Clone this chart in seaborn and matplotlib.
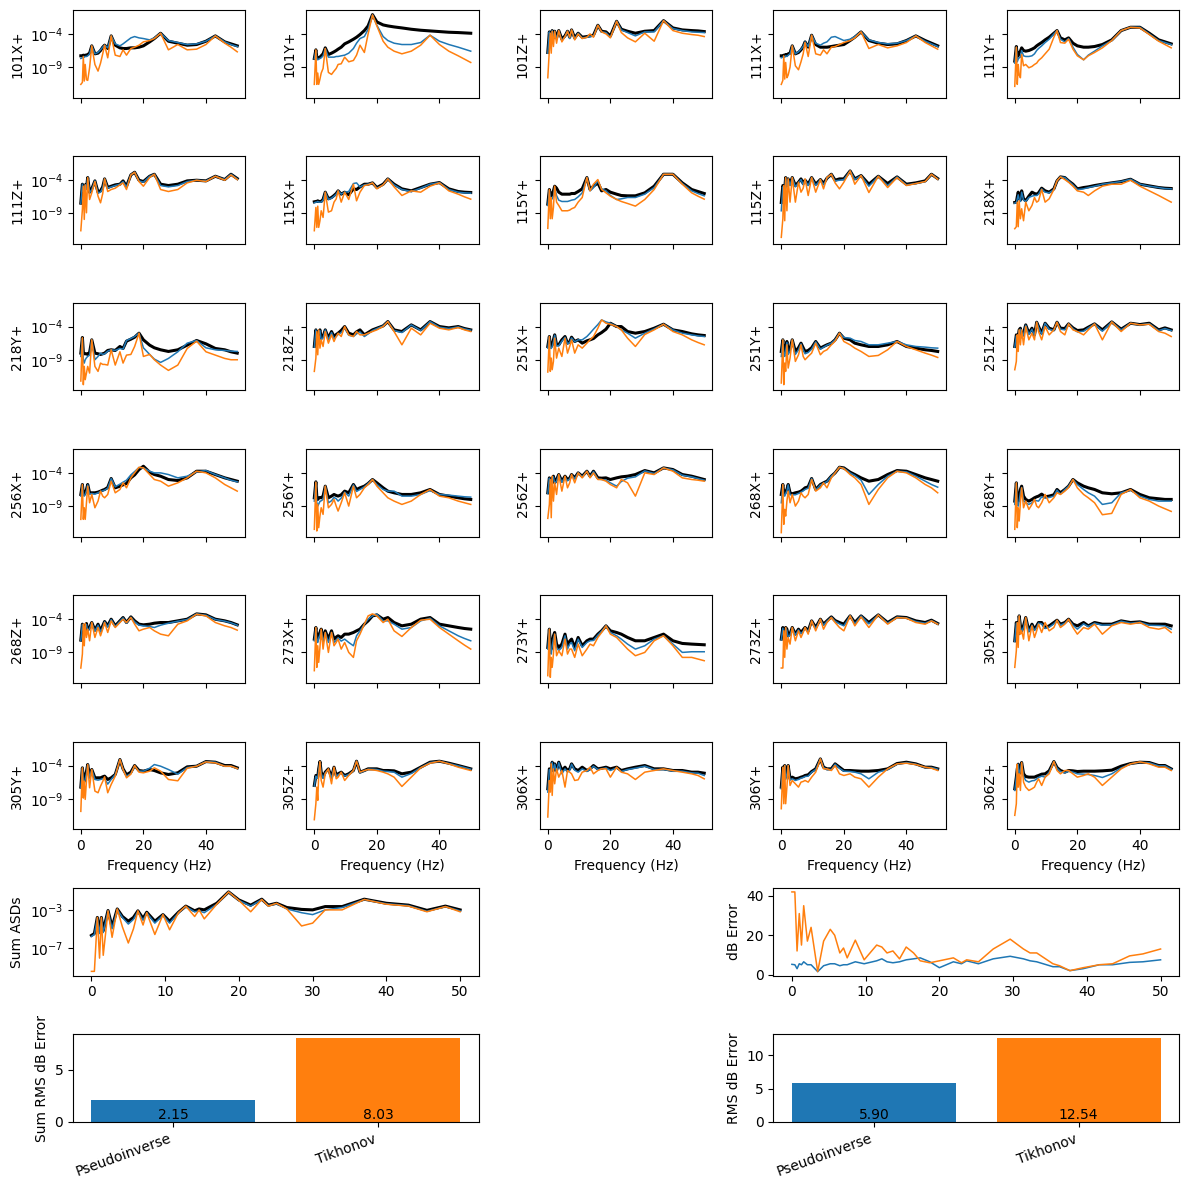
import numpy as np
import pandas as pd
import matplotlib
matplotlib.use("Agg")
import matplotlib.pyplot as plt
import matplotlib.ticker as mticker
from matplotlib.gridspec import GridSpec
import seaborn as sns

plt.rcParams['font.family'] = ['DejaVu Sans']

# ---------------- data (ASD values stored as log10 exponents) ----------------
FREQ = [0, 0.5, 0.8, 1.1, 1.4, 1.8, 2.2, 2.8, 3.5, 4.5, 5.5, 6.3, 7.0, 7.6, 8.6, 9.7,
        11, 12.5, 13.5, 14.6, 16, 17.2, 18.6, 20, 22, 23.5, 25.5, 28, 31, 34, 37, 40,
        43, 46, 48, 50]

NAMES = ['101X+', '101Y+', '101Z+', '111X+', '111Y+',
         '111Z+', '115X+', '115Y+', '115Z+', '218X+',
         '218Y+', '218Z+', '251X+', '251Y+', '251Z+',
         '256X+', '256Y+', '256Z+', '268X+', '268Y+',
         '268Z+', '273X+', '273Y+', '273Z+', '305X+',
         '305Y+', '305Z+', '306X+', '306Y+', '306Z+']

TRUTH = {
 '101X+': [-7.3,-7.3,-7.2,-7.3,-7.2,-7.2,-7.1,-6.9,-5.8, -7.0,-6.9,-6.5,-6.0,-5.7,-6.2,-4.3, -5.7,-6.1,-6.2,-6.2,-6.1,-6.1,-6.0,-5.8, -5.2,-4.7,-3.9,-5.1,-5.4,-5.7,-5.6,-5.1, -4.3,-5.2,-5.5,-5.8],
 '101Y+': [-7.7,-6.4,-7.5,-7.7,-7.6,-7.5,-7.3,-7.0,-6.1, -7.1,-6.9,-6.7,-6.5,-6.3,-6.0,-5.5, -5.2,-4.8,-4.5,-4.1,-3.5,-2.8,-1.1,-2.2, -2.65,-2.8,-2.95,-3.1,-3.3,-3.45,-3.55,-3.65, -3.75,-3.8,-3.85,-3.9],
 '101Z+': [-6.8,-3.7,-4.6,-4.8,-3.5,-4.6,-3.6,-4.6,-3.5, -4.8,-4.3,-3.6,-4.5,-3.4,-4.6,-3.9, -4.5,-4.4,-4.3,-4.2,-2.7,-3.6,-3.7,-4.3, -2.1,-3.3,-3.6,-3.9,-3.6,-3.5,-2.0,-3.1, -3.4,-3.5,-3.55,-3.65],
 '111X+': [-7.3,-7.3,-7.2,-7.3,-7.1,-7.2,-7.0,-6.9,-5.8, -7.0,-6.8,-6.4,-5.9,-5.2,-6.0,-4.2, -5.6,-6.0,-6.0,-6.0,-5.9,-5.8,-5.7,-5.6, -5.0,-4.5,-3.7,-5.0,-5.4,-5.6,-5.5,-5.0, -4.3,-5.0,-5.4,-5.8],
 '111Y+': [-8.1,-5.9,-7.4,-7.3,-6.8,-6.6,-6.1,-6.5,-6.6, -6.5,-6.3,-6.1,-5.8,-5.6,-5.3,-4.9, -4.5,-3.9,-3.5,-4.6,-4.9,-4.6,-5.4,-5.8, -6.0,-6.0,-5.9,-5.6,-4.9,-3.5,-3.0,-3.0, -3.9,-4.9,-5.2,-5.5],
 '111Z+': [-7.45,-4.6,-5.6,-5.4,-4.7,-5.2,-3.6,-5.8,-5.3, -4.1,-5.8,-5.6,-5.0,-3.8,-5.1,-4.9, -4.7,-4.6,-4.1,-4.9,-3.2,-2.8,-4.0,-4.2, -3.4,-3.1,-4.6,-4.8,-4.6,-4.1,-4.0,-4.1, -3.4,-3.9,-3.1,-3.75],
 '115X+': [-7.25,-7.2,-7.2,-7.1,-7.2,-7.2,-7.2,-6.9,-5.8, -6.8,-6.6,-6.3,-6.0,-5.6,-6.1,-5.8, -6.2,-5.3,-5.4,-5.0,-4.6,-4.6,-4.4,-5.1, -4.6,-3.8,-4.6,-5.3,-5.6,-5.1,-4.6,-4.35, -5.3,-5.7,-5.8,-5.85],
 '115Y+': [-7.6,-5.4,-6.2,-6.4,-6.0,-5.6,-4.9,-5.2,-5.8, -6.1,-6.1,-6.1,-6.1,-6.0,-6.0,-5.7, -5.3,-3.6,-5.4,-4.9,-4.4,-5.6,-5.4,-5.8, -6.1,-6.3,-6.35,-6.35,-5.9,-4.9,-3.1,-3.1, -4.4,-5.4,-5.7,-6.0],
 '115Z+': [-7.35,-4.8,-5.1,-5.3,-3.6,-4.8,-3.8,-4.6,-3.6, -4.8,-4.3,-3.8,-4.5,-4.0,-4.6,-3.6, -4.6,-3.9,-4.5,-3.7,-3.1,-4.0,-3.8,-3.8, -2.6,-3.8,-3.3,-4.6,-3.4,-4.5,-3.5,-4.6, -4.4,-4.1,-3.1,-3.75],
 '218X+': [-7.35,-7.3,-6.5,-5.8,-6.6,-7.0,-5.6,-6.8,-7.1, -6.4,-5.8,-6.0,-6.1,-5.9,-5.2,-5.6, -5.8,-5.3,-4.1,-3.5,-3.6,-4.1,-4.6,-5.3, -5.1,-5.0,-4.8,-4.6,-4.4,-4.2,-3.85,-4.6, -4.85,-5.1,-5.2,-5.25],
 '218Y+': [-8.0,-5.65,-7.9,-8.1,-8.1,-8.1,-8.2,-7.9,-6.0, -8.0,-8.1,-8.2,-8.1,-8.0,-7.6,-7.5, -7.6,-7.0,-7.3,-6.2,-5.9,-5.6,-5.0,-6.0, -6.8,-7.2,-7.5,-7.75,-7.5,-6.8,-6.1,-6.6, -7.3,-7.5,-7.8,-8.0],
 '218Z+': [-7.0,-4.5,-5.6,-5.25,-5.0,-4.5,-5.75,-5.5,-4.5, -5.75,-4.75,-5.5,-5.2,-5.0,-4.6,-4.0, -5.0,-5.25,-4.8,-4.5,-5.25,-4.9,-4.5,-4.25, -3.9,-3.25,-4.5,-4.75,-3.75,-4.5,-3.25,-4.0, -4.2,-4.0,-4.3,-4.5],
 '251X+': [-7.0,-5.5,-6.9,-7.0,-6.8,-6.0,-5.25,-6.75,-6.75, -6.0,-5.5,-6.5,-6.3,-5.6,-6.25,-6.0, -6.5,-6.15,-6.0,-5.8,-5.25,-4.9,-4.4,-3.5, -4.0,-4.0,-4.75,-5.0,-4.75,-4.25,-3.65,-4.5, -4.75,-5.1,-5.25,-5.35],
 '251Y+': [-7.75,-6.0,-7.6,-7.75,-7.2,-6.25,-7.75,-7.3,-6.0, -7.75,-7.2,-6.5,-7.2,-7.75,-7.6,-7.2, -6.25,-7.25,-7.0,-6.75,-6.5,-6.0,-5.0,-5.75, -6.0,-6.5,-6.75,-7.0,-7.0,-6.75,-6.25,-7.0, -7.25,-7.5,-7.6,-7.75],
 '251Z+': [-7.0,-5.25,-5.4,-5.5,-4.5,-4.25,-5.5,-5.0,-3.75, -5.0,-4.25,-5.25,-3.35,-4.0,-5.0,-3.5, -4.25,-4.5,-3.35,-4.25,-4.3,-3.6,-4.2,-4.6, -4.5,-4.1,-3.6,-4.5,-3.3,-4.4,-3.5,-3.7, -3.5,-4.5,-4.2,-4.5],
 '256X+': [-7.25,-5.75,-7.2,-7.25,-7.0,-6.5,-5.75,-7.0,-7.0, -7.0,-6.9,-6.75,-6.6,-6.5,-6.2,-4.85, -6.25,-6.0,-5.8,-5.6,-4.75,-4.3,-3.5,-3.0, -3.9,-4.25,-4.5,-5.0,-5.15,-4.75,-3.75,-3.75, -4.25,-4.75,-5.0,-5.25],
 '256Y+': [-7.75,-5.35,-7.6,-8.0,-7.8,-7.7,-7.75,-7.5,-6.0, -7.75,-7.5,-7.25,-7.4,-7.5,-7.3,-6.75, -7.0,-5.75,-6.5,-6.25,-6.0,-5.6,-5.0,-5.5, -6.25,-6.75,-7.0,-7.25,-7.25,-7.0,-6.5,-7.25, -7.5,-7.75,-7.9,-8.0],
 '256Z+': [-7.0,-4.75,-5.3,-5.75,-4.9,-4.5,-5.5,-5.0,-4.25, -5.25,-4.5,-5.0,-4.8,-4.25,-4.75,-4.0, -4.5,-3.75,-4.5,-3.75,-4.75,-4.8,-4.75,-5.0, -4.75,-4.6,-4.5,-4.25,-3.65,-4.0,-3.25,-3.5, -4.25,-4.5,-4.75,-5.0],
 '268X+': [-7.25,-5.75,-7.1,-7.15,-6.8,-6.5,-5.75,-7.0,-7.15, -7.0,-6.9,-6.75,-6.5,-6.25,-6.1,-4.85, -6.5,-5.75,-5.5,-5.25,-4.5,-4.0,-3.15,-3.25, -3.9,-4.25,-4.75,-5.25,-5.0,-4.25,-3.65,-3.75, -4.25,-4.75,-5.0,-5.25],
 '268Y+': [-8.25,-5.5,-8.0,-8.25,-7.5,-6.5,-6.0,-7.5,-8.0, -8.25,-8.0,-7.75,-7.6,-7.5,-7.2,-7.6, -7.5,-7.3,-6.5,-7.0,-6.5,-6.0,-5.0,-5.5, -6.0,-6.25,-6.5,-7.0,-7.15,-7.0,-6.5,-7.25, -7.75,-7.9,-8.0,-8.0],
 '268Z+': [-7.15,-4.75,-5.5,-5.75,-5.0,-4.65,-5.65,-5.25,-4.5, -5.65,-4.75,-5.75,-5.0,-4.35,-5.0,-4.0, -5.0,-4.25,-3.75,-4.5,-3.65,-4.25,-4.75,-4.85, -4.75,-4.6,-4.5,-4.5,-4.25,-4.0,-3.2,-3.35, -4.0,-4.25,-4.5,-4.85],
 '273X+': [-7.0,-5.25,-6.8,-7.0,-6.4,-6.0,-5.5,-7.0,-5.75, -7.0,-5.75,-7.0,-6.7,-6.5,-6.75,-6.25, -6.25,-6.0,-5.75,-5.5,-4.75,-4.25,-3.5,-3.35, -4.0,-3.75,-4.5,-5.0,-4.75,-4.0,-3.75,-4.75, -5.0,-5.25,-5.4,-5.5],
 '273Y+': [-8.25,-5.5,-8.0,-8.5,-7.5,-6.5,-6.0,-7.75,-8.25, -7.75,-6.25,-8.0,-7.3,-7.0,-8.25,-6.75, -8.0,-7.25,-7.0,-7.0,-6.25,-5.75,-5.0,-5.75, -6.0,-6.25,-6.75,-7.25,-7.25,-6.75,-6.25,-7.25, -7.65,-7.75,-7.8,-7.85],
 '273Z+': [-7.0,-5.25,-6.4,-6.75,-5.25,-5.5,-6.5,-6.2,-5.25, -6.25,-5.5,-6.0,-5.6,-5.25,-5.75,-4.25, -5.25,-4.0,-4.75,-4.25,-3.65,-4.2,-4.5,-4.75, -3.5,-4.5,-3.5,-4.5,-3.35,-4.5,-3.65,-3.75, -4.25,-4.5,-4.15,-4.65],
 '305X+': [-7.25,-4.5,-5.5,-6.25,-3.5,-5.0,-5.75,-5.0,-3.75, -5.75,-4.75,-5.5,-5.0,-4.5,-4.5,-5.25, -5.0,-4.5,-4.15,-4.75,-4.5,-4.0,-4.75,-5.0, -4.5,-5.0,-4.5,-4.75,-4.75,-4.25,-4.5,-4.4, -4.75,-4.75,-4.75,-5.0],
 '305Y+': [-7.25,-4.35,-6.0,-6.35,-5.5,-4.9,-3.85,-5.6,-4.6, -5.85,-5.85,-5.85,-5.7,-5.6,-6.1,-5.85, -5.35,-3.1,-4.5,-5.4,-5.0,-4.0,-4.75,-4.85, -4.6,-4.75,-5.1,-5.35,-5.1,-4.2,-4.1,-3.4, -3.5,-4.0,-4.0,-4.35],
 '305Z+': [-7.0,-5.5,-5.75,-5.75,-4.5,-3.4,-5.0,-5.75,-5.0, -4.5,-5.75,-4.25,-5.5,-5.25,-5.0,-5.5, -5.25,-4.75,-3.35,-5.0,-4.75,-4.5,-4.5,-4.5, -4.75,-4.75,-4.8,-5.25,-5.0,-4.25,-3.5,-3.35, -3.65,-4.0,-4.25,-4.5],
 '306X+': [-7.5,-4.5,-4.6,-4.75,-3.5,-4.75,-3.75,-4.75,-3.5, -4.75,-4.25,-4.75,-4.5,-3.75,-4.5,-4.75, -4.25,-4.75,-4.5,-4.0,-4.5,-4.4,-4.25,-4.5, -4.25,-4.75,-4.5,-4.25,-4.0,-4.5,-4.5,-4.75, -4.75,-5.0,-5.0,-5.15],
 '306Y+': [-7.25,-4.25,-5.0,-4.0,-5.75,-5.0,-4.0,-6.0,-5.75, -6.0,-5.9,-5.75,-5.65,-5.5,-5.4,-4.9, -4.5,-3.0,-4.25,-4.5,-4.5,-3.75,-4.25,-4.75, -4.75,-4.8,-4.85,-4.85,-4.75,-4.5,-3.7,-3.5, -3.75,-4.25,-4.25,-4.5],
 '306Z+': [-7.5,-5.75,-4.5,-3.8,-5.25,-4.5,-3.55,-5.25,-5.65, -5.75,-5.75,-5.75,-5.6,-5.5,-5.3,-5.25, -4.8,-3.4,-4.3,-4.75,-5.0,-4.75,-4.8,-4.9, -4.85,-4.85,-4.85,-4.8,-4.7,-4.1,-3.7,-3.5, -3.55,-4.0,-4.0,-4.5],
}

PINV = {
 '101X+': [-7.7,-7.6,-7.5,-7.5,-7.4,-7.4,-7.3,-7.0,-5.8, -7.0,-6.8,-6.4,-6.0,-5.7,-6.1,-4.3, -5.5,-5.8,-5.5,-5.1,-4.6,-4.4,-4.6,-4.7, -4.9,-4.6,-3.9,-5.0,-5.3,-5.6,-5.5,-5.1, -4.3,-5.2,-5.6,-5.9],
 '101Y+': [-7.75,-6.5,-7.7,-7.9,-7.8,-7.7,-7.6,-7.3,-6.2, -7.5,-7.5,-7.5,-7.4,-7.4,-7.3,-7.2, -6.9,-6.2,-5.4,-4.7,-4.4,-3.3,-1.15,-2.7, -4.4,-5.0,-5.4,-5.6,-5.6,-5.3,-4.2,-5.1, -5.6,-6.0,-6.3,-6.6],
 '101Z+': [-6.9,-3.7,-4.8,-5.0,-3.5,-4.8,-3.6,-4.8,-3.5, -5.0,-4.4,-3.6,-4.7,-3.4,-4.8,-3.9, -4.6,-4.5,-4.4,-4.3,-2.7,-3.7,-3.8,-4.5, -2.1,-3.4,-3.8,-4.3,-3.7,-3.7,-2.0,-3.2, -3.5,-3.7,-3.75,-3.8],
 '111X+': [-7.6,-7.5,-7.4,-7.5,-7.3,-7.4,-7.2,-7.0,-5.8, -7.0,-6.7,-6.3,-5.9,-5.2,-5.9,-4.2, -5.4,-5.7,-5.4,-5.2,-4.5,-4.4,-4.7,-5.0, -4.8,-4.4,-3.7,-4.9,-5.3,-5.5,-5.4,-5.0, -4.3,-5.1,-5.5,-5.9],
 '111Y+': [-8.4,-6.0,-8.2,-7.8,-7.6,-7.5,-6.5,-7.3,-7.4, -7.4,-7.3,-7.0,-6.5,-6.2,-5.8,-5.3, -4.8,-4.0,-3.5,-4.8,-5.2,-4.7,-6.0,-7.1, -7.9,-7.2,-6.6,-5.8,-5.0,-3.5,-3.0,-3.0, -4.0,-5.0,-5.3,-5.6],
 '111Z+': [-7.5,-4.6,-5.7,-5.6,-4.7,-5.4,-3.6,-5.9,-5.4, -4.1,-5.9,-5.8,-5.1,-3.8,-5.2,-5.0, -4.8,-4.6,-4.2,-5.0,-3.2,-2.8,-4.1,-4.3, -3.4,-3.1,-4.8,-5.0,-4.8,-4.2,-4.0,-4.1, -3.4,-3.9,-3.1,-3.8],
 '115X+': [-7.4,-7.3,-7.3,-7.2,-7.3,-7.3,-7.3,-7.0,-5.8, -6.9,-6.7,-6.4,-6.1,-5.6,-6.1,-5.8, -5.7,-4.5,-4.4,-5.0,-4.7,-4.6,-4.4,-5.2, -4.7,-3.8,-4.7,-5.4,-5.7,-5.2,-4.6,-4.35, -5.4,-5.8,-5.9,-5.95],
 '115Y+': [-7.8,-5.5,-6.8,-6.9,-6.8,-6.4,-5.1,-6.3,-7.0, -7.2,-7.2,-7.2,-7.1,-7.0,-6.9,-6.5, -5.9,-3.6,-5.6,-5.1,-4.1,-5.3,-5.6,-6.3, -6.9,-6.8,-6.6,-6.6,-6.1,-5.1,-3.1,-3.1, -4.5,-5.6,-6.0,-6.35],
 '115Z+': [-8.6,-5.0,-5.3,-5.5,-3.6,-5.0,-3.8,-4.8,-3.6, -5.0,-4.4,-3.9,-4.7,-4.0,-4.8,-3.6, -4.8,-3.9,-4.7,-3.7,-3.1,-4.1,-4.0,-3.9, -2.6,-3.9,-3.3,-4.9,-3.4,-4.8,-3.5,-4.7, -4.5,-4.2,-3.1,-3.8],
 '218X+': [-7.45,-7.4,-6.8,-6.2,-6.9,-7.2,-5.8,-7.0,-7.2, -6.6,-6.4,-6.3,-6.3,-6.1,-5.3,-5.8, -5.9,-5.4,-4.1,-3.5,-3.6,-4.1,-4.7,-5.4, -5.3,-5.1,-4.9,-4.6,-4.4,-4.2,-3.85,-4.6, -4.9,-5.1,-5.25,-5.3],
 '218Y+': [-8.5,-5.75,-9.0,-9.5,-9.0,-8.7,-8.5,-8.3,-6.0, -9.0,-8.5,-8.0,-8.2,-8.1,-7.7,-7.5, -7.6,-7.3,-7.4,-6.1,-5.8,-5.5,-5.0,-7.2, -8.2,-8.9,-9.4,-8.8,-7.8,-6.5,-6.1,-7.2, -7.5,-7.6,-7.7,-7.75],
 '218Z+': [-7.1,-4.5,-5.8,-5.5,-5.0,-4.6,-6.0,-5.7,-4.5, -6.0,-4.9,-5.8,-5.5,-5.2,-4.9,-4.2, -5.3,-5.5,-5.1,-4.8,-5.5,-5.1,-4.6,-4.3, -3.9,-3.25,-4.6,-4.9,-3.75,-4.6,-3.25,-4.1, -4.3,-4.05,-4.35,-4.55],
 '251X+': [-7.25,-5.5,-7.2,-7.3,-7.0,-6.3,-5.3,-6.9,-6.9, -6.2,-5.6,-6.6,-6.4,-5.7,-6.3,-6.0, -6.0,-5.5,-5.0,-4.4,-3.7,-3.0,-3.3,-3.5, -4.0,-4.5,-5.0,-5.75,-5.0,-4.35,-3.65,-4.5, -5.0,-5.25,-5.4,-5.5],
 '251Y+': [-8.5,-6.0,-8.0,-8.5,-7.6,-6.4,-8.2,-7.7,-6.0, -8.2,-7.5,-6.6,-7.5,-8.1,-7.9,-7.4, -6.3,-7.4,-7.1,-6.8,-6.5,-6.0,-5.0,-5.65, -5.75,-6.1,-6.25,-6.75,-6.75,-6.5,-6.25,-6.75, -7.0,-7.1,-7.2,-7.25],
 '251Z+': [-7.1,-5.4,-5.6,-5.7,-4.6,-4.4,-5.7,-5.2,-3.8, -5.2,-4.4,-5.4,-3.35,-4.1,-5.2,-3.5, -4.4,-4.6,-3.35,-4.4,-4.5,-3.6,-4.3,-4.8, -4.7,-4.2,-3.6,-4.7,-3.3,-4.5,-3.5,-3.75, -3.55,-4.6,-4.3,-4.6],
 '256X+': [-7.5,-5.75,-7.4,-7.5,-7.2,-6.7,-5.8,-7.2,-7.1, -7.2,-7.0,-6.8,-6.7,-6.6,-6.3,-4.85, -6.1,-5.7,-5.4,-5.1,-4.3,-3.8,-3.2,-3.25, -3.75,-4.0,-4.0,-4.25,-4.75,-4.5,-3.85,-3.65, -4.25,-4.75,-5.1,-5.35],
 '256Y+': [-8.25,-5.4,-8.5,-9.0,-8.7,-8.3,-8.2,-8.0,-6.0, -8.5,-8.2,-7.7,-7.9,-8.25,-7.8,-6.9, -7.5,-5.8,-6.8,-6.5,-6.1,-5.6,-5.0,-5.75, -6.5,-6.75,-6.75,-7.5,-7.5,-7.25,-6.65,-7.25, -7.35,-7.5,-7.6,-7.65],
 '256Z+': [-7.1,-4.8,-5.5,-5.9,-4.9,-4.6,-5.6,-5.2,-4.3, -5.4,-4.6,-5.2,-4.9,-4.3,-4.9,-4.0, -4.6,-3.75,-4.6,-3.8,-4.9,-5.0,-5.1,-5.5, -6.0,-5.3,-4.8,-4.6,-3.7,-4.1,-3.25,-3.55, -4.35,-4.6,-4.85,-5.1],
 '268X+': [-8.5,-5.75,-7.4,-7.5,-7.1,-6.7,-5.8,-7.3,-7.3, -7.3,-7.1,-6.9,-6.7,-6.5,-6.3,-4.85, -6.6,-5.8,-5.6,-5.3,-4.5,-4.0,-3.15,-3.3, -4.0,-4.4,-5.1,-7.25,-5.75,-4.5,-3.75,-3.85, -4.5,-5.25,-5.75,-6.15],
 '268Y+': [-8.75,-5.5,-8.7,-9.0,-8.2,-7.0,-6.2,-8.2,-8.5, -8.75,-8.5,-8.1,-8.2,-8.25,-7.6,-7.8, -7.7,-7.5,-6.6,-7.2,-6.5,-6.0,-5.0,-5.75, -6.5,-7.0,-7.5,-8.75,-8.5,-7.0,-6.6,-7.5, -8.0,-8.25,-8.25,-8.25],
 '268Z+': [-7.2,-4.8,-5.6,-5.9,-5.1,-4.8,-5.8,-5.4,-4.55, -5.8,-4.9,-5.9,-5.2,-4.4,-5.2,-4.05, -5.1,-4.3,-3.8,-4.6,-3.7,-4.4,-4.9,-5.0, -5.1,-5.25,-4.9,-4.6,-4.3,-4.05,-3.2,-3.4, -4.05,-4.3,-4.55,-4.9],
 '273X+': [-7.25,-5.25,-7.2,-7.5,-6.8,-6.4,-5.6,-7.5,-6.0, -7.5,-6.0,-7.5,-7.2,-6.8,-7.3,-7.0, -7.5,-8.0,-6.5,-5.75,-4.75,-4.0,-3.5,-3.25, -4.25,-4.25,-4.75,-5.5,-5.25,-4.25,-3.85,-5.0, -5.75,-6.5,-6.9,-7.25],
 '273Y+': [-8.5,-5.5,-8.75,-9.25,-8.0,-7.0,-6.25,-8.25,-8.75, -8.25,-6.5,-8.5,-7.75,-7.5,-8.75,-7.0, -8.25,-7.5,-7.25,-7.2,-6.4,-5.8,-5.0,-6.0, -6.5,-7.0,-7.75,-8.5,-8.0,-7.0,-6.5,-7.75, -9.0,-8.9,-8.9,-8.9],
 '273Z+': [-7.1,-5.35,-6.6,-7.0,-5.3,-5.7,-6.7,-6.4,-5.3, -6.4,-5.6,-6.2,-5.8,-5.3,-5.9,-4.3, -5.4,-4.05,-4.9,-4.3,-3.7,-4.3,-4.7,-5.0, -3.5,-4.7,-3.5,-4.7,-3.35,-4.6,-3.7,-3.8, -4.35,-4.6,-4.2,-4.7],
 '305X+': [-7.35,-4.6,-5.7,-6.5,-3.5,-5.2,-5.9,-5.2,-3.8, -5.9,-4.9,-5.7,-5.2,-4.6,-4.7,-5.4, -5.2,-4.7,-4.2,-4.9,-4.6,-4.05,-4.9,-5.5, -4.7,-5.1,-4.6,-4.9,-4.85,-4.3,-4.6,-4.45, -4.9,-4.95,-5.0,-5.5],
 '305Y+': [-7.35,-4.35,-6.4,-6.85,-6.0,-5.2,-3.85,-5.9,-4.6, -6.1,-6.2,-6.1,-6.0,-5.9,-6.8,-6.1, -5.35,-3.1,-4.6,-5.6,-5.2,-4.1,-4.85,-4.85, -4.4,-3.85,-4.1,-4.6,-5.3,-4.3,-4.1,-3.4, -3.5,-4.1,-4.1,-4.45],
 '305Z+': [-7.1,-5.6,-5.9,-5.9,-4.6,-3.4,-5.2,-5.9,-5.1, -4.6,-5.9,-4.3,-5.6,-5.4,-5.1,-5.6, -5.35,-4.8,-3.35,-5.1,-4.8,-4.55,-4.55,-4.6, -4.85,-4.9,-5.0,-5.75,-5.2,-4.3,-3.55,-3.35, -3.7,-4.05,-4.3,-4.55],
 '306X+': [-8.0,-4.6,-4.8,-5.0,-3.5,-5.0,-3.8,-5.0,-3.55, -5.25,-4.5,-5.0,-4.7,-3.8,-4.7,-5.0, -4.5,-4.9,-4.6,-4.1,-4.6,-4.5,-4.35,-4.75, -4.35,-4.9,-4.6,-4.4,-4.1,-4.6,-4.6,-4.85, -4.85,-5.1,-5.15,-5.5],
 '306Y+': [-7.5,-4.3,-5.3,-4.0,-6.1,-5.3,-4.0,-6.2,-6.0, -6.25,-6.1,-5.9,-5.8,-5.65,-5.6,-5.0, -4.6,-3.0,-4.3,-4.6,-4.6,-3.8,-4.4,-4.85, -4.9,-5.0,-5.25,-6.0,-5.0,-4.6,-3.8,-3.55, -3.8,-4.3,-4.3,-4.55],
 '306Z+': [-7.75,-5.8,-4.7,-3.8,-5.5,-4.7,-3.55,-5.6,-6.25, -6.5,-6.3,-6.25,-6.0,-5.8,-5.6,-5.75, -5.0,-3.4,-4.4,-4.9,-5.1,-4.85,-5.0,-5.25, -5.3,-5.35,-5.5,-5.8,-5.25,-4.35,-3.75,-3.5, -3.6,-4.05,-4.05,-4.55],
}

TIKH = {
 '101X+': [-11.6,-11.3,-7.4,-11.1,-8.6,-10.9,-11.0,-9.1,-5.8, -8.6,-9.6,-8.4,-7.0,-5.7,-7.6,-4.3, -7.2,-7.4,-6.4,-7.2,-6.2,-6.0,-5.7,-5.2, -5.0,-4.7,-3.9,-6.4,-5.6,-6.4,-6.3,-5.6, -4.3,-5.4,-6.0,-6.7],
 '101Y+': [-11.6,-6.4,-11.6,-9.9,-11.6,-10.8,-9.9,-9.2,-6.2, -9.8,-10.1,-9.6,-9.2,-8.6,-8.5,-7.5, -8.2,-8.0,-7.2,-5.7,-6.8,-4.0,-1.15,-2.8, -5.1,-6.0,-6.6,-7.0,-6.6,-5.7,-4.2,-5.6, -6.6,-7.3,-7.8,-8.3],
 '101Z+': [-10.6,-6.4,-3.9,-6.9,-3.6,-5.9,-3.6,-5.4,-3.5, -5.2,-4.4,-3.6,-4.5,-3.4,-4.9,-4.0, -4.7,-4.5,-4.0,-4.5,-2.7,-3.7,-4.0,-4.6, -2.1,-3.8,-4.6,-5.2,-3.9,-5.1,-2.0,-3.5, -3.9,-4.1,-4.2,-4.4],
 '111X+': [-11.6,-11.0,-7.3,-10.8,-8.3,-10.6,-10.2,-9.0,-5.8, -8.8,-9.4,-8.2,-7.0,-5.3,-7.4,-4.2, -7.0,-7.2,-6.4,-7.0,-6.0,-5.9,-5.6,-5.3, -5.0,-4.6,-3.7,-6.2,-5.6,-6.1,-5.8,-5.3, -4.3,-5.3,-5.8,-6.3],
 '111Y+': [-11.9,-6.0,-11.6,-8.6,-10.2,-10.6,-7.1,-8.8,-8.6, -9.1,-8.9,-8.6,-8.4,-8.0,-7.6,-7.0, -6.3,-4.5,-3.5,-5.3,-5.4,-4.8,-6.3,-7.3, -7.9,-7.3,-6.8,-6.1,-5.0,-3.5,-3.0,-3.1, -4.1,-5.1,-5.6,-6.1],
 '111Z+': [-11.6,-8.4,-4.9,-9.9,-4.7,-8.9,-3.6,-6.9,-5.9, -4.2,-6.4,-7.4,-6.0,-3.8,-5.7,-5.4, -5.2,-4.7,-4.4,-5.4,-3.2,-2.8,-4.2,-4.9, -3.6,-3.1,-5.4,-5.7,-5.4,-4.4,-4.0,-4.2, -3.4,-4.0,-3.2,-3.9],
 '115X+': [-11.6,-8.1,-11.1,-7.9,-11.1,-10.1,-8.6,-9.6,-5.8, -8.8,-8.6,-7.3,-6.8,-5.6,-7.3,-5.8, -6.9,-4.6,-7.1,-5.8,-4.8,-4.7,-4.4,-5.3, -4.7,-3.8,-5.0,-6.3,-5.6,-5.8,-4.9,-4.4, -5.6,-6.1,-6.5,-6.85],
 '115Y+': [-11.25,-5.4,-9.8,-6.6,-9.8,-8.1,-4.9,-7.3,-7.8, -8.6,-8.6,-8.6,-8.5,-8.3,-8.1,-7.3, -6.6,-3.6,-5.6,-4.6,-3.9,-5.4,-5.9,-6.4, -6.9,-7.2,-7.5,-7.9,-6.9,-5.4,-3.1,-3.1, -4.6,-5.9,-6.4,-6.85],
 '115Z+': [-12.6,-9.8,-4.8,-10.1,-3.6,-8.6,-3.8,-7.3,-3.6, -7.3,-4.3,-5.8,-5.2,-3.8,-6.3,-3.6, -5.8,-3.9,-5.3,-3.6,-3.1,-4.4,-5.3,-4.3, -2.6,-4.6,-3.3,-5.85,-3.4,-5.1,-3.6,-4.8, -4.5,-4.2,-3.1,-3.85],
 '218X+': [-11.3,-11.0,-7.3,-11.0,-7.1,-9.8,-8.3,-10.1,-7.3, -8.6,-7.8,-6.6,-7.3,-7.1,-5.4,-7.3, -6.8,-5.4,-4.1,-3.5,-3.9,-4.3,-4.9,-5.6, -5.8,-6.3,-5.6,-4.9,-4.6,-4.6,-4.0,-4.9, -5.6,-6.3,-6.8,-7.3],
 '218Y+': [-12.2,-5.7,-12.75,-10.0,-12.0,-11.0,-10.0,-11.0,-6.0, -10.0,-10.75,-9.5,-9.7,-9.7,-9.8,-7.5, -9.8,-7.8,-9.5,-8.3,-8.2,-7.0,-5.0,-8.5, -8.2,-9.0,-9.8,-10.6,-9.8,-7.3,-6.2,-7.8, -8.3,-8.8,-9.0,-9.0],
 '218Z+': [-10.75,-8.75,-4.75,-8.25,-4.5,-7.25,-6.0,-7.0,-4.75, -6.5,-5.25,-6.25,-5.5,-5.0,-5.5,-4.0, -5.25,-5.5,-4.75,-5.25,-5.25,-5.0,-4.75,-4.5, -4.0,-3.25,-4.75,-6.75,-4.25,-5.25,-3.5,-4.25, -4.5,-4.15,-4.5,-4.75],
 '251X+': [-10.85,-5.5,-10.75,-8.75,-10.5,-9.25,-5.75,-8.75,-7.25, -8.5,-5.75,-8.0,-7.0,-6.0,-8.0,-6.75, -7.25,-6.5,-6.0,-5.5,-4.25,-3.0,-3.5,-3.65, -4.0,-4.5,-5.75,-7.0,-5.2,-4.5,-3.65,-4.75, -5.25,-6.0,-6.4,-6.75],
 '251Y+': [-12.5,-6.0,-12.75,-9.5,-10.75,-6.75,-10.25,-8.75,-6.0, -9.25,-8.25,-6.75,-8.5,-9.0,-8.5,-8.0, -6.5,-8.25,-7.75,-7.5,-6.75,-6.2,-5.0,-6.25, -6.75,-7.25,-7.75,-8.5,-8.35,-7.5,-6.25,-7.0, -7.5,-8.0,-8.3,-8.65],
 '251Z+': [-10.5,-9.25,-5.25,-7.75,-4.5,-6.75,-4.5,-6.75,-4.0, -6.0,-5.0,-6.0,-3.35,-4.75,-6.0,-4.0, -5.25,-4.5,-3.35,-4.75,-5.25,-3.6,-4.5,-4.75, -5.25,-4.5,-3.6,-6.0,-3.3,-4.75,-3.5,-3.75, -3.65,-4.75,-5.0,-5.5],
 '256X+': [-11.0,-5.75,-11.0,-9.25,-11.0,-8.5,-6.0,-8.5,-7.25, -9.25,-8.25,-6.75,-7.5,-7.75,-7.25,-5.25, -7.0,-6.5,-5.5,-6.25,-4.75,-4.0,-3.15,-3.25, -4.25,-5.0,-5.25,-6.0,-5.5,-4.75,-3.75,-4.0, -4.75,-5.75,-6.25,-6.75],
 '256Y+': [-12.5,-5.4,-12.75,-8.75,-12.25,-10.5,-9.25,-10.25,-6.0, -9.25,-8.75,-8.0,-9.0,-9.75,-8.5,-7.0, -9.0,-6.0,-7.75,-7.25,-6.25,-5.75,-5.0,-6.0, -7.0,-7.75,-8.25,-8.75,-8.25,-7.25,-6.5,-7.5, -7.75,-8.25,-8.5,-8.75],
 '256Z+': [-10.85,-8.75,-5.0,-10.75,-4.5,-8.25,-5.5,-7.25,-4.25, -6.75,-4.5,-6.25,-5.5,-4.25,-5.5,-4.0, -4.75,-3.75,-4.75,-4.0,-5.0,-5.0,-5.25,-5.75, -6.25,-5.0,-5.5,-7.5,-4.0,-4.25,-3.25,-3.75, -4.75,-5.0,-5.1,-5.25],
 '268X+': [-13.0,-5.75,-11.75,-9.5,-10.5,-8.25,-6.75,-8.5,-7.25, -9.0,-8.25,-7.0,-7.5,-7.75,-7.25,-5.0, -6.75,-6.25,-5.5,-6.25,-4.75,-4.0,-3.15,-3.35, -4.25,-4.75,-5.75,-8.75,-6.5,-4.75,-3.75,-4.0, -4.75,-5.75,-6.25,-7.0],
 '268Y+': [-12.5,-5.5,-12.25,-9.25,-11.25,-8.5,-6.25,-9.25,-8.25, -9.5,-8.75,-8.0,-9.0,-9.25,-8.5,-7.25, -8.5,-7.75,-7.0,-7.25,-6.75,-6.2,-5.0,-6.25, -7.25,-7.75,-8.5,-10.3,-10.1,-7.25,-6.5,-7.75, -8.25,-9.0,-9.4,-9.8],
 '268Z+': [-11.35,-9.25,-4.75,-8.0,-4.65,-6.75,-5.5,-7.25,-4.5, -6.75,-5.25,-6.5,-5.5,-4.5,-6.0,-4.25, -5.25,-4.5,-4.0,-4.5,-3.75,-4.75,-5.75,-5.5, -5.25,-5.75,-6.25,-6.5,-4.75,-4.25,-3.25,-3.5, -4.5,-5.0,-5.25,-5.65],
 '273X+': [-11.75,-5.25,-11.25,-8.0,-10.5,-8.25,-5.5,-8.5,-6.0, -9.0,-6.0,-8.0,-7.5,-7.0,-8.5,-7.5, -9.0,-9.75,-7.25,-6.25,-4.75,-3.5,-3.2,-3.5, -4.5,-4.0,-5.75,-6.6,-5.25,-4.15,-4.0,-5.25, -6.25,-7.25,-7.9,-8.5],
 '273Y+': [-12.5,-5.5,-12.75,-9.75,-11.25,-9.25,-6.25,-9.5,-8.75, -9.5,-7.0,-9.25,-8.5,-8.5,-9.75,-7.75, -9.5,-8.5,-7.75,-8.0,-6.75,-6.0,-5.0,-6.25, -6.75,-7.5,-8.5,-9.5,-9.0,-7.25,-6.5,-8.0, -9.75,-9.75,-10.0,-10.25],
 '273Z+': [-11.35,-11.35,-5.75,-9.75,-5.25,-8.5,-6.75,-7.75,-5.25, -7.25,-5.75,-6.75,-6.0,-5.25,-6.25,-4.25, -5.75,-4.0,-5.5,-4.5,-3.75,-4.5,-5.25,-5.75, -3.5,-5.0,-3.65,-5.25,-3.35,-4.75,-3.75,-3.85, -4.5,-4.75,-4.25,-4.75],
 '305X+': [-11.25,-8.75,-4.5,-8.25,-3.5,-6.25,-5.75,-7.0,-3.75, -7.25,-5.0,-6.75,-5.75,-4.75,-6.0,-4.5, -5.75,-5.25,-4.15,-5.25,-4.75,-4.0,-5.25,-6.25, -5.25,-5.5,-4.75,-6.25,-5.0,-4.5,-4.75,-4.5, -5.25,-5.5,-5.25,-6.0],
 '305Y+': [-10.9,-4.35,-8.9,-6.35,-9.1,-6.35,-3.85,-7.35,-4.6, -7.85,-8.1,-7.1,-6.4,-5.7,-8.1,-6.85, -5.6,-3.1,-4.6,-5.85,-5.3,-4.0,-5.0,-5.1, -4.85,-4.35,-4.85,-6.1,-6.3,-4.4,-4.1,-3.45, -3.6,-4.1,-4.1,-4.45],
 '305Z+': [-12.15,-9.75,-7.25,-9.25,-5.5,-3.4,-6.25,-7.25,-5.25, -4.5,-6.75,-4.25,-6.0,-5.75,-5.0,-6.25, -5.5,-4.75,-3.35,-5.0,-4.75,-4.6,-4.65,-4.75, -5.0,-5.25,-5.75,-7.15,-5.75,-4.35,-3.65,-3.35, -3.75,-4.25,-4.5,-4.75],
 '306X+': [-11.75,-6.25,-8.0,-3.75,-8.5,-4.5,-6.75,-4.5,-5.75, -4.75,-7.25,-4.75,-5.0,-5.25,-6.25,-6.15, -5.0,-4.75,-4.25,-5.25,-4.75,-4.5,-4.5,-5.75, -4.25,-5.0,-5.25,-6.1,-5.0,-4.75,-4.5,-4.75, -5.0,-5.25,-5.5,-6.0],
 '306Y+': [-10.5,-4.25,-9.75,-4.0,-9.75,-7.25,-4.0,-7.0,-6.25, -6.75,-7.25,-6.5,-6.4,-6.25,-6.5,-5.75, -5.0,-3.0,-4.5,-4.5,-4.75,-4.0,-5.25,-5.5, -5.25,-5.75,-6.0,-7.25,-5.75,-4.5,-3.75,-3.65, -3.85,-4.25,-4.4,-4.75],
 '306Z+': [-11.5,-9.75,-3.8,-7.25,-5.25,-7.75,-3.55,-6.5,-7.25, -7.75,-7.5,-7.25,-6.5,-6.0,-7.0,-5.75, -5.25,-3.4,-4.75,-5.25,-4.75,-4.75,-5.25,-5.75, -5.5,-5.25,-5.75,-7.0,-5.75,-4.5,-3.75,-3.45, -3.75,-4.25,-4.25,-4.75],
}

# Sum of ASDs over all channels (log10)
SUM_FREQ = [0, 0.4, 0.8, 1.1, 1.35, 1.6, 2.25, 2.8, 3.5, 4.2, 5.0, 5.7, 6.3, 7.0, 7.5, 8.6,
            9.7, 10.6, 11.8, 12.8, 14.0, 14.6, 15.3, 17.0, 18.6, 20.0, 21.6, 23.1, 24.0,
            25.1, 26.5, 28.5, 30.0, 31.7, 34.0, 37.0, 40.0, 43.0, 45.5, 48.0, 50.0]
SUM_TRUTH = [-5.7,-5.5,-3.8,-5.3,-3.8,-5.2,-3.07,-4.8,-2.9,-3.7,-4.2,-3.8,-3.1,-3.9,-3.25,-4.2,
             -3.5,-4.2,-3.25,-2.6,-3.1,-2.9,-3.0,-2.3,-1.1,-1.95,-2.5,-1.87,-2.5,-2.3,-2.75,
             -2.95,-3.0,-2.65,-2.65,-1.87,-2.3,-2.5,-3.05,-2.6,-3.0]
SUM_PINV = [-5.8,-5.6,-3.85,-5.5,-3.85,-5.4,-3.1,-5.0,-2.95,-3.8,-4.5,-4.0,-3.15,-4.1,-3.3,-4.4,
            -3.55,-4.4,-3.3,-2.65,-3.2,-3.1,-3.3,-2.4,-1.1,-2.0,-2.6,-1.9,-2.55,-2.35,-2.9,
            -3.3,-3.5,-3.0,-2.75,-1.9,-2.35,-2.55,-3.15,-2.65,-3.1]
SUM_TIKH = [-9.5,-9.5,-3.8,-8.1,-3.8,-7.8,-3.1,-5.9,-2.9,-4.8,-6.5,-5.0,-3.1,-4.6,-3.3,-5.6,
            -3.5,-5.1,-3.3,-2.6,-3.7,-3.0,-3.95,-2.4,-1.1,-2.0,-3.2,-1.9,-2.6,-2.3,-2.9,
            -4.7,-4.4,-3.0,-3.0,-1.9,-2.4,-2.6,-3.2,-2.65,-3.2]

# dB error of the summed ASD
ERR_FREQ = [0, 0.4, 0.7, 1.0, 1.3, 1.6, 2.1, 2.6, 3.5, 4.3, 5.2, 5.8, 6.5, 7.0, 7.5, 8.6, 9.8,
            11.5, 12.2, 12.9, 13.7, 14.6, 15.5, 16.5, 17.4, 18.7, 20.0, 21.9, 23.0, 23.7,
            25.3, 27.3, 29.6, 31.4, 32.3, 33.2, 35.4, 36.3, 37.7, 39.5, 41.7, 43.5, 45.8,
            47.6, 50.0]
ERR_PINV = [5.2, 5.0, 3.0, 5.5, 5.0, 6.5, 5.0, 5.0, 1.5, 4.5, 5.5, 5.5, 4.5, 5.0, 5.0, 6.5,
            5.5, 7.0, 8.0, 6.5, 6.0, 6.5, 7.5, 8.0, 8.5, 6.5, 3.5, 6.5, 5.5, 7.0, 5.5, 8.0,
            9.3, 8.0, 7.0, 6.5, 4.0, 4.0, 2.0, 3.0, 5.0, 5.0, 6.2, 6.5, 7.5]
ERR_TIKH = [42, 42, 12, 31, 15, 35, 17, 24, 1.5, 17, 23, 20, 11, 13.5, 8.5, 17.5, 7.5, 15,
            14, 11, 12, 8, 14, 11, 7, 6, 7, 8.5, 6, 7.5, 6.5, 13, 18, 13, 11, 11, 5.5, 4.5,
            2, 3.5, 5, 5.5, 9.5, 10.5, 13]

METHODS = ['Pseudoinverse', 'Tikhonov']
SUM_RMS_DB = [2.15, 8.03]
RMS_DB = [5.90, 12.54]

# ---------------- figure ----------------
fig = plt.figure(figsize=(11.89, 11.89), dpi=100)
gs = GridSpec(8, 5, figure=fig, left=0.0614, right=0.9916, top=0.9916,
              bottom=0.0564, wspace=0.357, hspace=0.669)

LW_T, LW_C = 2.2, 1.1
first = None
for i, name in enumerate(NAMES):
    r, c = divmod(i, 5)
    ax = fig.add_subplot(gs[r, c], sharex=first, sharey=first)
    if first is None:
        first = ax
    ax.set_yscale('log')
    df = pd.DataFrame({'f': FREQ,
                       'truth': 10.0 ** np.array(TRUTH[name]),
                       'pinv': 10.0 ** np.array(PINV[name]),
                       'tikh': 10.0 ** np.array(TIKH[name])})
    sns.lineplot(data=df, x='f', y='truth', ax=ax, color='k', lw=LW_T)
    sns.lineplot(data=df, x='f', y='pinv', ax=ax, color='C0', lw=LW_C)
    sns.lineplot(data=df, x='f', y='tikh', ax=ax, color='C1', lw=LW_C)
    ax.set_ylabel(name)
    ax.set_xlabel('Frequency (Hz)' if r == 5 else '')
    ax.set_xticks([0, 20, 40])
    ax.set_yticks([1e-9, 1e-4])
    ax.yaxis.set_minor_locator(mticker.NullLocator())
    ax.set_ylim(10 ** -13.6, 10 ** -0.4)
    ax.set_xlim(-2.5, 52.5)
    ax.tick_params(labelbottom=(r == 5), labelleft=(c == 0))

# Sum ASDs
ax_s = fig.add_subplot(gs[6, 0:2])
ax_s.set_yscale('log')
dfs = pd.DataFrame({'f': SUM_FREQ,
                    'truth': 10.0 ** np.array(SUM_TRUTH),
                    'pinv': 10.0 ** np.array(SUM_PINV),
                    'tikh': 10.0 ** np.array(SUM_TIKH)})
sns.lineplot(data=dfs, x='f', y='truth', ax=ax_s, color='k', lw=LW_T)
sns.lineplot(data=dfs, x='f', y='pinv', ax=ax_s, color='C0', lw=LW_C)
sns.lineplot(data=dfs, x='f', y='tikh', ax=ax_s, color='C1', lw=LW_C)
ax_s.set_yticks([1e-7, 1e-3])
ax_s.yaxis.set_minor_locator(mticker.NullLocator())
ax_s.set_ylim(10 ** -9.95, 10 ** -0.68)
ax_s.set_xlim(-2.5, 52.5)
ax_s.set_xlabel('')
ax_s.set_ylabel('Sum ASDs')

# dB error
ax_e = fig.add_subplot(gs[6, 3:5])
dfe = pd.DataFrame({'f': ERR_FREQ, 'pinv': ERR_PINV, 'tikh': ERR_TIKH})
sns.lineplot(data=dfe, x='f', y='pinv', ax=ax_e, color='C0', lw=LW_C)
sns.lineplot(data=dfe, x='f', y='tikh', ax=ax_e, color='C1', lw=LW_C)
ax_e.set_xlim(-2.5, 52.5)
ax_e.set_xlabel('')
ax_e.set_ylabel('dB Error')

# bar charts
for spec, vals, lab in [(gs[7, 0:2], SUM_RMS_DB, 'Sum RMS dB Error'),
                        (gs[7, 3:5], RMS_DB, 'RMS dB Error')]:
    axb = fig.add_subplot(spec)
    sns.barplot(x=METHODS, y=vals, hue=METHODS, palette=['C0', 'C1'],
                saturation=1, legend=False, ax=axb, width=0.8)
    axb.set_xlim(-0.49, 1.49)
    axb.set_ylim(0, max(vals) * 1.05)
    for j, v in enumerate(vals):
        axb.text(j, 0, f'{v:.2f}', ha='center', va='bottom', fontsize=10)
    axb.set_xticks([0, 1])
    axb.set_xticklabels(METHODS, rotation=20, ha='right')
    axb.set_ylabel(lab)
    axb.set_xlabel('')

fig.savefig('out.png', dpi=100)
